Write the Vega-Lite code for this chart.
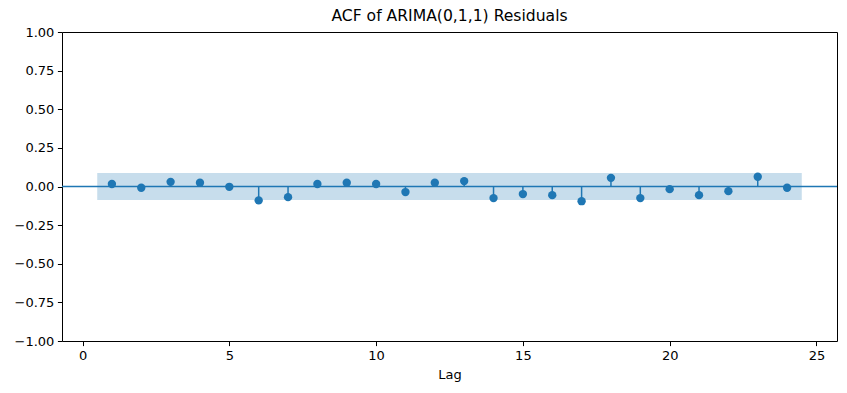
{
  "$schema": "https://vega.github.io/schema/vega-lite/v6.json",
  "width": 775,
  "height": 309,
  "autosize": {"type": "none"},
  "padding": {"left": 62, "top": 32, "right": 10, "bottom": 52},
  "background": "white",
  "config": {
    "font": "DejaVu Sans",
    "view": {"stroke": "black", "strokeWidth": 1},
    "axis": {
      "grid": false,
      "domain": false,
      "tickColor": "black",
      "tickSize": 4.6,
      "tickWidth": 1,
      "labelColor": "black",
      "labelFont": "DejaVu Sans",
      "labelFontSize": 13,
      "labelPadding": 3.5,
      "labelOverlap": false,
      "titleFont": "DejaVu Sans",
      "titleFontSize": 13,
      "titleFontWeight": "normal",
      "titleColor": "black"
    },
    "title": {"font": "DejaVu Sans", "fontSize": 15.6, "fontWeight": "normal", "color": "black", "offset": 1}
  },
  "title": "ACF of ARIMA(0,1,1) Residuals",
  "datasets": {
    "acf": [
      {"lag": 1, "acf": 0.016},
      {"lag": 2, "acf": -0.008},
      {"lag": 3, "acf": 0.030},
      {"lag": 4, "acf": 0.024},
      {"lag": 5, "acf": -0.002},
      {"lag": 6, "acf": -0.090},
      {"lag": 7, "acf": -0.069},
      {"lag": 8, "acf": 0.016},
      {"lag": 9, "acf": 0.024},
      {"lag": 10, "acf": 0.016},
      {"lag": 11, "acf": -0.036},
      {"lag": 12, "acf": 0.024},
      {"lag": 13, "acf": 0.035},
      {"lag": 14, "acf": -0.075},
      {"lag": 15, "acf": -0.049},
      {"lag": 16, "acf": -0.056},
      {"lag": 17, "acf": -0.095},
      {"lag": 18, "acf": 0.056},
      {"lag": 19, "acf": -0.075},
      {"lag": 20, "acf": -0.017},
      {"lag": 21, "acf": -0.056},
      {"lag": 22, "acf": -0.030},
      {"lag": 23, "acf": 0.063},
      {"lag": 24, "acf": -0.008}
    ],
    "band": [
      {"start": 0.5, "end": 24.5, "lo": -0.087, "hi": 0.087}
    ]
  },
  "layer": [
    {
      "data": {"name": "band"},
      "mark": {"type": "rect", "color": "#1f77b4", "opacity": 0.25},
      "encoding": {
        "x": {"field": "start", "type": "quantitative", "scale": {"domain": [-0.7, 25.7], "nice": false, "zero": false},
          "axis": {"values": [0, 5, 10, 15, 20, 25], "title": "Lag", "titlePadding": 6, "labelFlush": false}},
        "x2": {"field": "end"},
        "y": {"field": "lo", "type": "quantitative", "scale": {"domain": [-1, 1], "nice": false},
          "axis": {"values": [-1, -0.75, -0.5, -0.25, 0, 0.25, 0.5, 0.75, 1], "format": ".2f", "title": null, "labelFlush": false, "labelOverlap": false}},
        "y2": {"field": "hi"}
      }
    },
    {
      "data": {"name": "band"},
      "mark": {"type": "rule", "color": "#1f77b4", "strokeWidth": 1.5},
      "encoding": {"y": {"datum": 0, "type": "quantitative",
          "axis": {"values": [-1, -0.75, -0.5, -0.25, 0, 0.25, 0.5, 0.75, 1], "format": ".2f", "title": null, "labelFlush": false, "labelOverlap": false}}}
    },
    {
      "data": {"name": "acf"},
      "mark": {"type": "rule", "color": "#1f77b4", "strokeWidth": 1.5},
      "encoding": {
        "x": {"field": "lag", "type": "quantitative",
          "axis": {"values": [0, 5, 10, 15, 20, 25], "title": "Lag", "titlePadding": 6, "labelFlush": false}},
        "y": {"field": "acf", "type": "quantitative",
          "axis": {"values": [-1, -0.75, -0.5, -0.25, 0, 0.25, 0.5, 0.75, 1], "format": ".2f", "title": null, "labelFlush": false, "labelOverlap": false}},
        "y2": {"datum": 0}
      }
    },
    {
      "data": {"name": "acf"},
      "mark": {"type": "circle", "color": "#1f77b4", "opacity": 1, "size": 70},
      "encoding": {
        "x": {"field": "lag", "type": "quantitative",
          "axis": {"values": [0, 5, 10, 15, 20, 25], "title": "Lag", "titlePadding": 6, "labelFlush": false}},
        "y": {"field": "acf", "type": "quantitative",
          "axis": {"values": [-1, -0.75, -0.5, -0.25, 0, 0.25, 0.5, 0.75, 1], "format": ".2f", "title": null, "labelFlush": false, "labelOverlap": false}}
      }
    }
  ]
}
